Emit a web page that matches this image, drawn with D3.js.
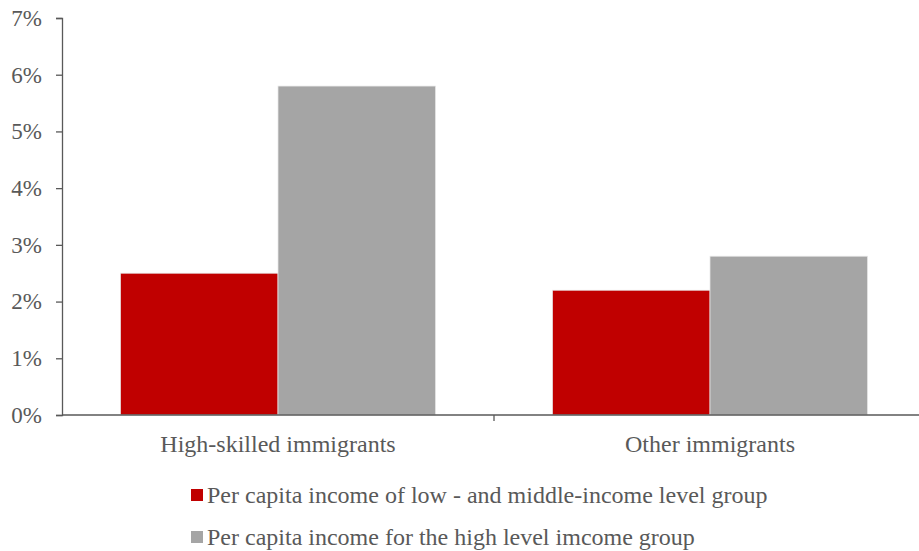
<!DOCTYPE html>
<html>
<head>
<meta charset="utf-8">
<script src="https://cdn.jsdelivr.net/npm/d3@7"></script>
<style>
  body { margin: 0; background: #fff; }
  svg { display: block; }
  svg text { font-family: "Liberation Serif", "Times New Roman", serif; }
</style>
</head>
<body>
<svg id="chart"></svg>
<script>
const categories = ["High-skilled immigrants", "Other immigrants"];
const seriesNames = [
  "Per capita income of low - and middle-income level group",
  "Per capita income for the high level imcome group"
];
const lowMidValues = [0.025, 0.022];
const highValues = [0.058, 0.028];
const yTicks = [0, 0.01, 0.02, 0.03, 0.04, 0.05, 0.06, 0.07];
const colors = ["#C00000", "#A5A5A5"];

const width = 919, height = 551;
const svg = d3.select("#chart").attr("width", width).attr("height", height);

const x0 = d3.scaleBand().domain(categories).range([62, 926]).paddingInner(0).paddingOuter(0);
const x1 = d3.scaleBand().domain(seriesNames).range([0, x0.bandwidth()]).paddingInner(0).paddingOuter(0.371);
const y = d3.scaleLinear().domain([0, 0.07]).range([415, 18]);

const rows = categories.map((c, i) => ({ cat: c, vals: [lowMidValues[i], highValues[i]] }));

const g = svg.append("g");
g.selectAll("g.grp")
  .data(rows)
  .join("g")
  .attr("class", "grp")
  .attr("transform", d => `translate(${x0(d.cat)},0)`)
  .selectAll("rect")
  .data(d => d.vals.map((v, j) => ({ name: seriesNames[j], v, j })))
  .join("rect")
  .attr("x", d => x1(d.name))
  .attr("y", d => y(d.v))
  .attr("width", x1.bandwidth())
  .attr("height", d => y(0) - y(d.v))
  .attr("fill", d => colors[d.j])
  .attr("stroke", "#e8e8e8")
  .attr("stroke-width", 0.75);

// y axis
const yAxis = svg.append("g")
  .attr("transform", "translate(62,0)")
  .call(d3.axisLeft(y).tickValues(yTicks).tickFormat(d3.format(".0%")).tickSize(6).tickPadding(8));
yAxis.attr("font-family", null).attr("font-size", null);
yAxis.select(".domain").attr("stroke", "#595959").attr("stroke-width", 1.3);
yAxis.selectAll(".tick line").attr("stroke", "#595959").attr("stroke-width", 1.3);
yAxis.selectAll(".tick text")
  .attr("fill", "#595959")
  .style("font-size", "23px")
  .attr("x", -20);

// x axis
const xAxisG = svg.append("g").attr("transform", `translate(0,${y(0)})`);
xAxisG.append("line")
  .attr("x1", 62).attr("x2", width)
  .attr("stroke", "#595959").attr("stroke-width", 1.3);
xAxisG.selectAll("line.tk")
  .data(categories.slice(1))
  .join("line")
  .attr("class", "tk")
  .attr("x1", d => x0(d)).attr("x2", d => x0(d))
  .attr("y1", 0).attr("y2", 6)
  .attr("stroke", "#595959").attr("stroke-width", 1.3);
xAxisG.selectAll("text")
  .data(categories)
  .join("text")
  .attr("x", d => x0(d) + x0.bandwidth() / 2 - 0)
  .attr("y", 37)
  .attr("text-anchor", "middle")
  .attr("fill", "#595959")
  .style("font-size", "24px")
  .text(d => d);

// legend
const legend = svg.append("g").attr("transform", "translate(191,0)");
const items = legend.selectAll("g")
  .data(seriesNames)
  .join("g")
  .attr("transform", (d, i) => `translate(0,${495 + i * 42})`);
items.append("rect")
  .attr("x", 0).attr("y", -6)
  .attr("width", 12).attr("height", 12)
  .attr("fill", (d, i) => colors[i]);
items.append("text")
  .attr("x", 16).attr("y", 0)
  .attr("dy", "0.35em")
  .attr("fill", "#595959")
  .style("font-size", "24px")
  .text(d => d);
</script>
</body>
</html>
